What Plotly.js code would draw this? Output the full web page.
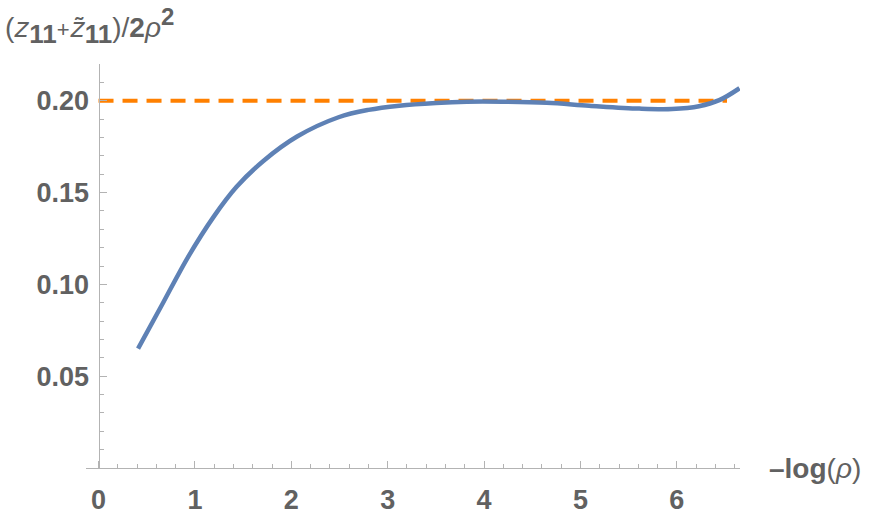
<!DOCTYPE html>
<html>
<head>
<meta charset="utf-8">
<script src="https://cdn.plot.ly/plotly-3.0.1.min.js"></script>
<style>html,body{margin:0;padding:0;background:#fff;}#chart{width:873px;height:515px;}</style>
</head>
<body>
<div id="chart"></div>
<script>
// Curve data
const curveX = [0.41, 0.67, 0.93, 1.19, 1.43, 1.71, 2.06, 2.49, 2.8, 3.12, 3.5, 3.82, 4.2, 4.65, 5.09, 5.61, 5.95, 6.23, 6.44, 6.65];
const curveY = [0.065, 0.090, 0.115, 0.1365, 0.153, 0.1672, 0.1805, 0.191, 0.195, 0.1973, 0.1988, 0.1995, 0.1995, 0.1989, 0.1973, 0.1957, 0.1955, 0.1970, 0.2003, 0.2068];
// Reference level (dashed)
const refX = [0, 6.52];
const refY = [0.2, 0.2];
const xTicks = [0, 1, 2, 3, 4, 5, 6];
const yTicks = [0.05, 0.10, 0.15, 0.20];
const yTickLabels = ["0.05", "0.10", "0.15", "0.20"];

const xMin = -0.13, xMax = 6.655;
const tickFont = {family: 'Liberation Sans, Arial, sans-serif', size: 27, weight: 'bold', color: '#616161'};

const traces = [
  {x: refX, y: refY, mode: 'lines', line: {color: '#FF8000', width: 4, dash: '15px,9px'}, hoverinfo: 'skip'},
  {x: curveX, y: curveY, mode: 'lines', line: {color: '#5E81B5', width: 4.5, shape: 'spline', smoothing: 1}, hoverinfo: 'skip'}
];

const layout = {
  width: 873, height: 515,
  margin: {l: 86, r: 133, t: 64, b: 47},
  paper_bgcolor: '#fff', plot_bgcolor: '#fff',
  showlegend: false,
  xaxis: {
    range: [xMin, xMax], showgrid: false, zeroline: false,
    showline: true, linecolor: '#b3b3b3', linewidth: 1.3,
    tickmode: 'array', tickvals: xTicks, ticktext: xTicks.map(String),
    ticks: 'inside', ticklen: 7, tickcolor: '#b3b3b3', tickwidth: 1,
    minor: {tickmode: 'array', tickvals: [0.2,0.4,0.6,0.8,1.2,1.4,1.6,1.8,2.2,2.4,2.6,2.8,3.2,3.4,3.6,3.8,4.2,4.4,4.6,4.8,5.2,5.4,5.6,5.8,6.2,6.4,6.6], ticks: 'inside', ticklen: 4, tickcolor: '#b3b3b3', tickwidth: 1},
    tickfont: tickFont, ticklabelstandoff: 7,
    fixedrange: true
  },
  yaxis: {
    range: [0, 0.22], showgrid: false, zeroline: false,
    anchor: 'free', position: (0 - xMin) / (xMax - xMin),
    showline: true, linecolor: '#b3b3b3', linewidth: 1.3,
    tickmode: 'array', tickvals: yTicks, ticktext: yTickLabels,
    ticks: 'inside', ticklen: 7, tickcolor: '#b3b3b3', tickwidth: 1,
    minor: {tickmode: 'array', tickvals: [0.01,0.02,0.03,0.04,0.06,0.07,0.08,0.09,0.11,0.12,0.13,0.14,0.16,0.17,0.18,0.19,0.21,0.22], ticks: 'inside', ticklen: 4, tickcolor: '#b3b3b3', tickwidth: 1},
    tickfont: tickFont, ticklabelstandoff: 4,
    fixedrange: true
  },
  annotations: [
    {xref: 'paper', yref: 'paper', x: -0.127, y: 1.0, yshift: 38, xanchor: 'left', yanchor: 'middle', showarrow: false,
     font: {family: 'Liberation Sans, Arial, sans-serif', size: 28, color: '#616161'},
     text: '(<span style="font-family:Liberation Serif">𝑧</span><sub><span style="font-size:26px;font-weight:bold">11</span></sub><span style="font-size:22px">+</span><span style="font-family:Liberation Serif">𝑧̃</span><sub><span style="font-size:26px;font-weight:bold">11</span></sub>)/<b>2</b><i>ρ</i><sup><span style="font-size:24px;font-weight:bold">2</span></sup>'},
    {xref: 'paper', yref: 'paper', x: 1.0, y: 0, xshift: 27, xanchor: 'left', yanchor: 'middle', showarrow: false,
     font: {family: 'Liberation Sans, Arial, sans-serif', size: 28, color: '#616161'},
     text: '<b>–log</b>(<i>ρ</i>)'}
  ]
};

Plotly.newPlot('chart', traces, layout, {staticPlot: true, displayModeBar: false});
</script>
</body>
</html>
